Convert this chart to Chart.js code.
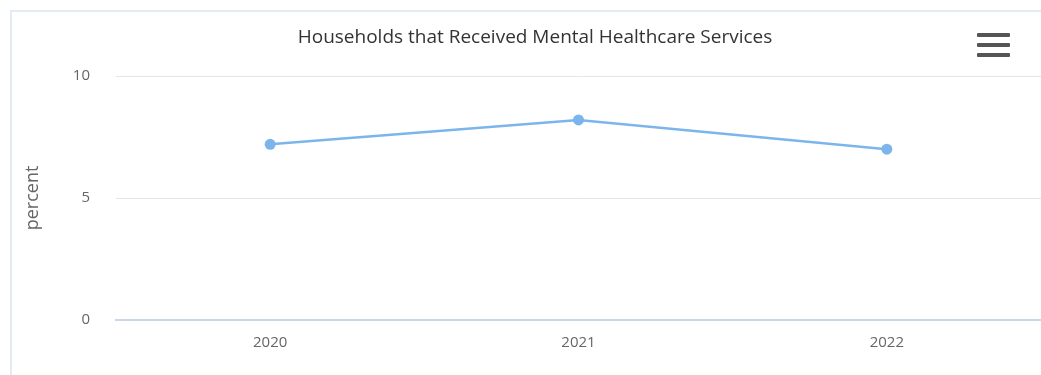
<!DOCTYPE html>
<html>
<head>
<meta charset="utf-8">
<script src="https://cdn.jsdelivr.net/npm/chart.js@4"></script>
<style>
  html, body { margin: 0; padding: 0; background: #fff; overflow: hidden; }
  #frame { position: absolute; left: 10px; top: 10px; width: 1100px; height: 400px;
           border-top: 2px solid #e3ecf5; border-left: 2px solid #e3ecf5; box-sizing: border-box; }
  #wrap { position: absolute; left: 0; top: 0; width: 1041px; height: 375px; }
  #title { position: absolute; left: 235px; width: 600px; top: 23px; line-height: 26px; text-align: center;
           font-family: 'Open Sans', 'DejaVu Sans', sans-serif; font-size: 19px; color: #333333; white-space: nowrap; }
  #menu { position: absolute; left: 977px; top: 33px; width: 33px; height: 24px; }
  #menu div { position: absolute; left: 0; width: 33px; height: 4px; background: #555; border-radius: 1px; }
</style>
</head>
<body>
<div id="frame"></div>
<div id="wrap"><canvas id="c" width="1041" height="375"></canvas></div>
<div id="title"></div>
<div id="menu"><div style="top:0"></div><div style="top:10px"></div><div style="top:20px"></div></div>
<script>
const chartTitle = "Households that Received Mental Healthcare Services";
const categories = ["2020", "2021", "2022"];
const percentValues = [7.2, 8.2, 7.0];
const yTickValues = [0, 5, 10];
const yAxisTitle = "percent";

document.getElementById('title').textContent = chartTitle;

const font = "'Open Sans', 'DejaVu Sans', sans-serif";

new Chart(document.getElementById('c'), {
  type: 'line',
  data: {
    labels: categories,
    datasets: [{
      label: yAxisTitle,
      data: percentValues,
      borderColor: '#7cb5ec',
      backgroundColor: '#7cb5ec',
      borderWidth: 2.5,
      pointRadius: 5.5,
      pointHoverRadius: 5.5,
      pointBorderWidth: 0,
      tension: 0
    }]
  },
  options: {
    responsive: false,
    animation: false,
    layout: { autoPadding: false, padding: { left: 0, right: 0, top: 76, bottom: 0 } },
    plugins: {
      legend: { display: false },
      tooltip: { enabled: false },
      title: { display: false }
    },
    scales: {
      x: {
        offset: true,
        grid: { display: false, drawTicks: false },
        border: { display: true, color: '#ccd6eb', width: 2 },
        ticks: { color: '#666666', font: { family: font, size: 15 }, padding: 14 },
        afterFit: s => { s.height = 55; s.paddingLeft = 0; s.paddingRight = 0; }
      },
      y: {
        min: 0, max: 10,
        afterBuildTicks: s => { s.ticks = yTickValues.map(v => ({ value: v })); },
        grid: { color: '#e6e6e6', drawTicks: false, lineWidth: 1 },
        border: { display: false },
        ticks: { color: '#666666', font: { family: font, size: 15 }, padding: 26 },
        title: { display: true, text: yAxisTitle, color: '#666666', font: { family: font, size: 18 }, padding: { top: 22 } },
        afterFit: s => { s.width = 116; s.paddingTop = 0; s.paddingBottom = 0; }
      }
    }
  }
});
</script>
</body>
</html>
